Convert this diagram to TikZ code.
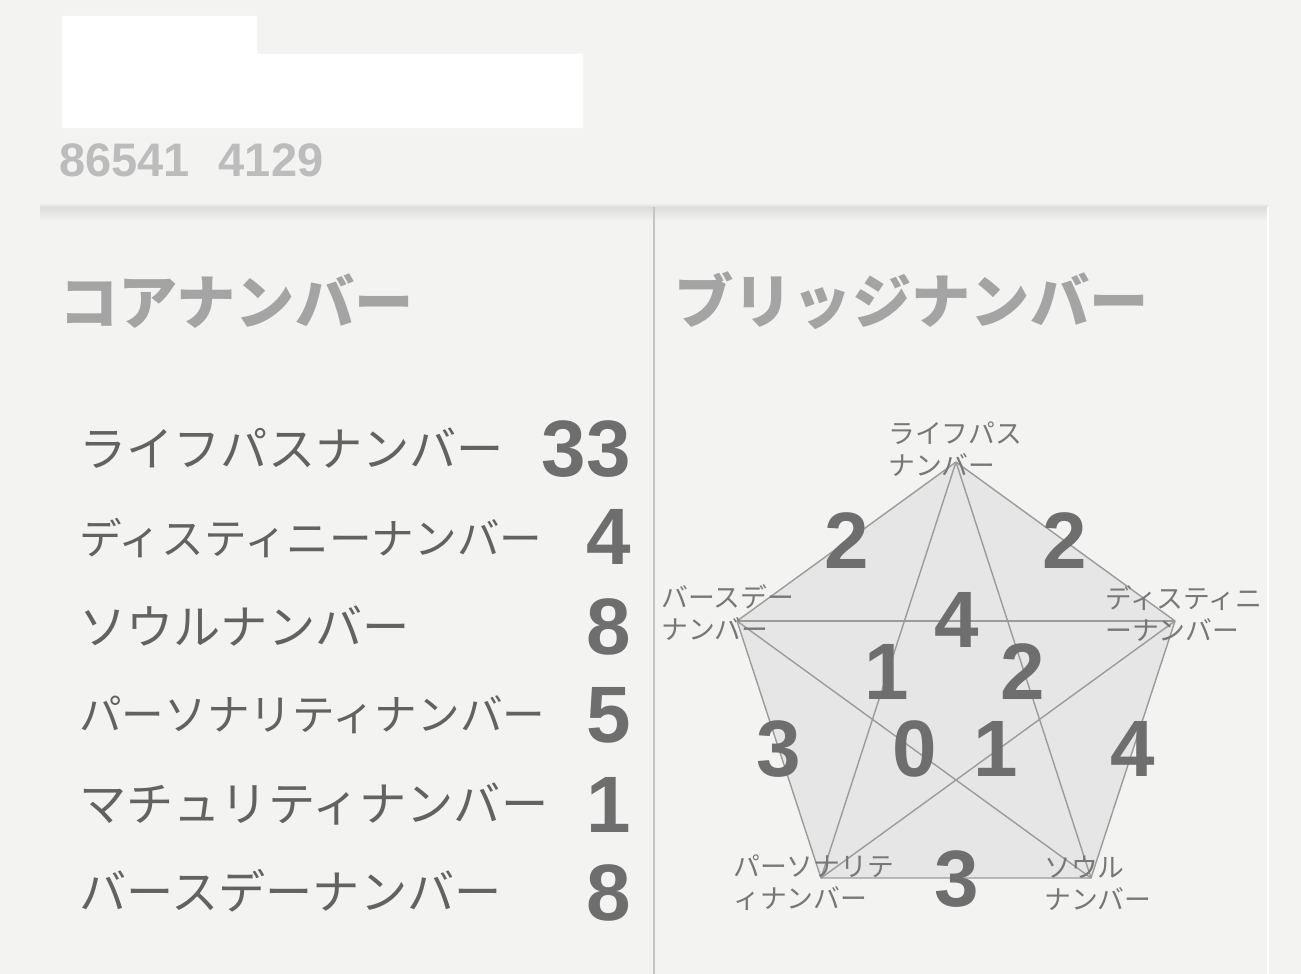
\documentclass[tikz,border=0pt]{standalone}
\usepackage{fontspec}
\setmainfont{Liberation Sans}
\newfontfamily\jp{Noto Sans CJK JP}
\newfontfamily\numf{Liberation Sans}
\definecolor{bg}{HTML}{F3F3F2}
\definecolor{shadowc}{HTML}{DCDCDB}
\definecolor{divc}{HTML}{C4C4C4}
\definecolor{headc}{HTML}{A4A4A4}
\definecolor{idc}{HTML}{BCBCBC}
\definecolor{labc}{HTML}{626262}
\definecolor{digc}{HTML}{6E6E6E}
\definecolor{vlabc}{HTML}{777777}
\definecolor{pfill}{HTML}{E6E6E6}
\definecolor{pline}{HTML}{9B9B9B}
\tikzset{
  lab/.style={anchor=west, inner sep=0pt, text=labc, font=\jp\fontsize{47.2}{50}\selectfont},
  labsm/.style={lab, font=\jp\fontsize{42.6}{46}\selectfont},
  dig/.style={anchor=east, inner sep=0pt, text=digc, font=\numf\bfseries\fontsize{80}{80}\selectfont},
  pdig/.style={anchor=center, inner sep=0pt, text=digc, font=\numf\bfseries\fontsize{80}{80}\selectfont},
  head/.style={anchor=west, inner sep=0pt, text=headc, font=\jp\bfseries\fontsize{59.3}{62}\selectfont},
  vlab/.style={anchor=west, inner sep=0pt, align=left, text=vlabc, font=\jp\fontsize{26.8}{32}\selectfont},
  pent/.style={fill=pfill, draw=pline, line width=1.4pt, line join=round},
  star/.style={draw=pline, line width=1.4pt}
}
\begin{document}
\begin{tikzpicture}[x=1pt,y=-1pt]
\useasboundingbox (0,0) rectangle (1301,974);
\fill[bg] (0,0) rectangle (1301,974);

% redaction blocks
\fill[white] (62,16) -- (257,16) -- (257,54) -- (583,54) -- (583,128) -- (62,128) -- cycle;
\node[anchor=west, inner sep=0pt, text=idc, font=\numf\bfseries\fontsize{47}{47}\selectfont] (id) at (59,160) {86541\hspace{29pt}4129};

% card top shadow
\shade[top color=bg, bottom color=shadowc] (40,203) rectangle (1268,207);
\shade[top color=shadowc, bottom color=bg] (40,207) rectangle (1268,221);
\draw[divc, line width=2pt] (654,207) -- (654,974);
\draw[white, line width=2.5pt] (1268,207) -- (1268,974);

% headings
\node[head] (h1) at (59,301) {コアナンバー};
\node[head] (h2) at (674,301) {ブリッジナンバー};

% core numbers list
\node[lab]   (l1) at (79,448) {ライフパスナンバー};
\node[dig]   (n1) at (631,449) {33};
\node[labsm] (l2) at (79,538) {ディスティニーナンバー};
\node[dig]   (n2) at (631,537) {4};
\node[lab]   (l3) at (79,626) {ソウルナンバー};
\node[dig]   (n3) at (631,627) {8};
\node[labsm] (l4) at (79,715) {パーソナリティナンバー};
\node[dig]   (n4) at (631,715) {5};
\node[lab]   (l5) at (79,804) {マチュリティナンバー};
\node[dig]   (n5) at (631,805) {1};
\node[lab]   (l6) at (79,891) {バースデーナンバー};
\node[dig]   (n6) at (631,893) {8};

% pentagon
\coordinate (T)  at (956,462);
\coordinate (R)  at (1175,621);
\coordinate (BR) at (1091,878);
\coordinate (BL) at (821,878);
\coordinate (L)  at (737,621);
\path[pent] (T) -- (R) -- (BR) -- (BL) -- (L) -- cycle;
\draw[star] (T) -- (BL);
\draw[star] (T) -- (BR);
\draw[star] (L) -- (R);
\draw[star] (L) -- (BR);
\draw[star] (R) -- (BL);

% vertex labels
\node[vlab] (vT)  at (888,449) {ライフパス\\ナンバー};
\node[vlab] (vL)  at (661,613) {バースデー\\ナンバー};
\node[vlab] (vR)  at (1105,614) {ディスティニ\\ーナンバー};
\node[vlab] (vBL) at (733,883) {パーソナリテ\\ィナンバー};
\node[vlab] (vBR) at (1044,883) {ソウル\\ナンバー};

% bridge numbers
\node[pdig] (b1)  at (847,541) {2};
\node[pdig] (b2)  at (1065,541) {2};
\node[pdig] (b3)  at (957,620) {4};
\node[pdig] (b4)  at (887,672) {1};
\node[pdig] (b5)  at (1023,672) {2};
\node[pdig] (b6)  at (779,749) {3};
\node[pdig] (b7)  at (915,749) {0};
\node[pdig] (b8)  at (996,749) {1};
\node[pdig] (b9)  at (1133,749) {4};
\node[pdig] (b10) at (957,879) {3};
\end{tikzpicture}
\end{document}
